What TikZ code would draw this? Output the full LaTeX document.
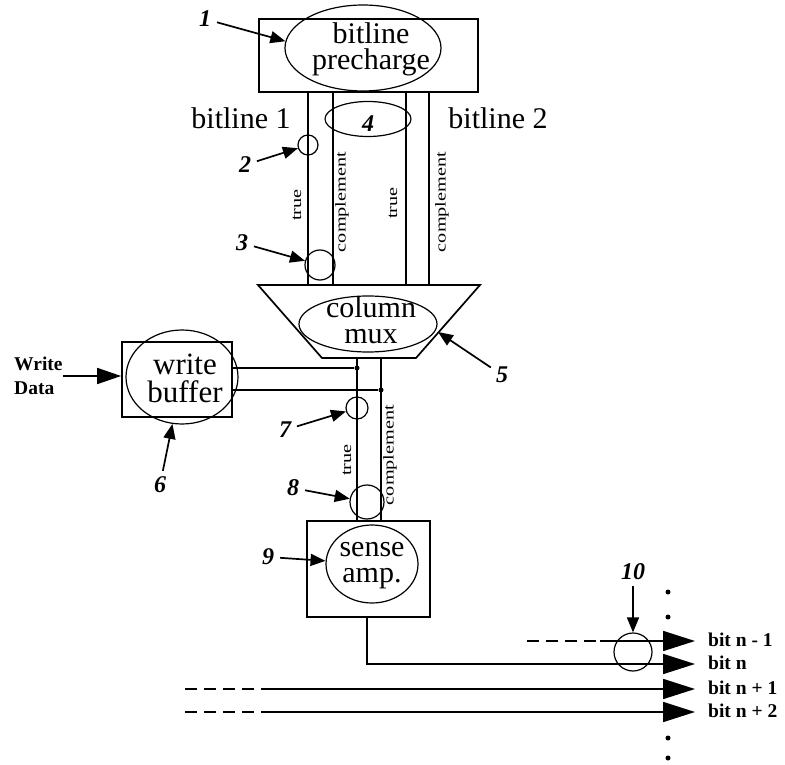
\documentclass[tikz,border=0pt]{standalone}
\usepackage{fontspec}
\setmainfont{Liberation Serif}
\usepackage{graphicx}
\usetikzlibrary{arrows.meta,shapes.geometric,positioning,calc}
\tikzset{
  block/.style    ={rectangle, draw, line width=1.7pt, inner sep=0pt},
  blob/.style     ={ellipse, draw, line width=1.2pt, inner sep=0pt},
  ring/.style     ={circle, draw, line width=1.2pt, inner sep=0pt},
  bigtext/.style  ={inner sep=0pt, align=center, font=\fontsize{30}{26}\selectfont},
  smalltext/.style={inner sep=0pt, align=left, font=\fontsize{19.5}{24}\selectfont\bfseries},
  num/.style      ={inner sep=0pt, font=\fontsize{24}{24}\selectfont\bfseries\itshape},
  wirelabel/.style={inner sep=0pt, rotate=90, font=\fontsize{15}{15}\selectfont},
  junction/.style ={circle, fill, inner sep=0pt, minimum size=5pt},
  wire/.style     ={line width=1.7pt},
  pointer/.style  ={-{Triangle[length=15pt,width=12pt]}, line width=1.7pt, shorten <=6pt},
  outarr/.style   ={-{Triangle[length=32pt,width=20pt]}, line width=1.7pt}
}

\begin{document}
\begin{tikzpicture}[x=1pt, y=-1pt]
\useasboundingbox (0,0) rectangle (785,765);

%PRECHARGE
\node[block, minimum width=219pt, minimum height=73pt] (pre) at (368.5,55.5) {};
\node[blob, minimum width=156pt, minimum height=86pt] (pe) at (363,48) {};
\node[bigtext] (pet) at (371,49) {bitline\\precharge};

%COLUMN MUX
\coordinate (muxTL) at (258,285);
\coordinate (muxTR) at (480,285);
\coordinate (muxBR) at (416,358);
\coordinate (muxBL) at (322,358);
\draw[wire] (muxTL) -- (muxTR) -- (muxBR) -- (muxBL) -- cycle;
\node[blob, minimum width=138pt, minimum height=56pt] (me) at (368,324) {};
\node[bigtext] (met) at (371,320) {column\\mux};

%BITLINES
\foreach \x in {308,333,406,429}
  \draw[wire] (pre.south -| \x,0) -- (muxTL -| \x,0);

\node[bigtext] (bl1) at (241,118) {bitline 1};
\node[bigtext] (bl2) at (498,118) {bitline 2};

\node[wirelabel] (tr1) at (297,205) {\scalebox{1.35}[1]{true}};
\node[wirelabel] (cp1) at (342,202) {\scalebox{1.35}[1]{complement}};
\node[wirelabel] (tr2) at (393,203) {\scalebox{1.35}[1]{true}};
\node[wirelabel] (cp2) at (442,202) {\scalebox{1.35}[1]{complement}};

%WRITE BUFFER
\node[block, minimum width=110pt, minimum height=75pt] (wb) at (177,379.5) {};
\node[blob, minimum width=112pt, minimum height=94pt] (we) at (182,377) {};
\node[bigtext, font=\fontsize{31}{28}\selectfont] (wet) at (185,378) {write\\buffer};

\node[smalltext, anchor=west] (wd) at (14,376) {Write\\Data};
\draw[outarr, -{Triangle[length=24pt,width=16pt]}] (wd.east) -- (wd.east -| wb.west);

\node[junction] (j1) at (357,368) {};
\node[junction] (j2) at (381,390) {};
\draw[wire] (j1 -| wb.east) -- (j1);
\draw[wire] (j2 -| wb.east) -- (j2);

%SENSE AMP
\node[block, minimum width=123pt, minimum height=96pt] (sb) at (368.5,569) {};
\node[blob, minimum width=92pt, minimum height=78pt] (se) at (372,564) {};
\node[bigtext] (set) at (372,566) {sense\\amp.};

\draw[wire] (j1 |- muxBL) -- (j1 |- sb.north);
\draw[wire] (j2 |- muxBL) -- (j2 |- sb.north);

\node[wirelabel] (tr3) at (347,460) {\scalebox{1.35}[1]{true}};
\node[wirelabel] (cp3) at (390,455) {\scalebox{1.35}[1]{complement}};

%OUTPUT BITS
\node[smalltext, anchor=west] (b0) at (708,640) {bit n - 1};
\node[smalltext, anchor=west] (b1) at (708,663) {bit n};
\node[smalltext, anchor=west] (b2) at (708,688) {bit n + 1};
\node[smalltext, anchor=west] (b3) at (708,711) {bit n + 2};

\coordinate (so) at (367,664);
\draw[outarr, shorten >=13pt] (sb.south -| so) |- (so -| b1.west);

\coordinate (d0s) at (527,641);
\coordinate (d0e) at (600,641);
\draw[wire, dash pattern=on 12pt off 7pt] (d0s) -- (d0e);
\draw[outarr, shorten >=13pt] (d0e) -- (d0e -| b0.west);

\coordinate (d2s) at (185,689);
\coordinate (d2e) at (262,689);
\draw[wire, dash pattern=on 12pt off 7pt] (d2s) -- (d2e);
\draw[outarr, shorten >=13pt] (d2e) -- (d2e -| b2.west);

\coordinate (d3s) at (185,712);
\coordinate (d3e) at (262,712);
\draw[wire, dash pattern=on 12pt off 7pt] (d3s) -- (d3e);
\draw[outarr, shorten >=13pt] (d3e) -- (d3e -| b3.west);

\foreach \y [count=\i] in {592,617,738,758}
  \node[junction] (dt\i) at (668,\y) {};

%ANNOTATIONS
\node[ring, minimum size=20pt] (c2) at (308,145) {};
\node[ring, minimum size=30pt] (c3) at (320,265) {};
\node[ring, ellipse, minimum width=86pt, minimum height=35pt] (c4) at (368,119) {};
\node[ring, minimum size=22pt] (c7) at (357,408) {};
\node[ring, minimum size=34pt] (c8) at (367,502) {};
\node[ring, minimum size=38pt] (c10) at (633,652) {};
\coordinate (mux5) at (438,332);

\node[num] (n1) at (205,19) {1};
\node[num] (n2) at (245,165) {2};
\node[num] (n3) at (242,243) {3};
\node[num] (n4) at (368,124) {4};
\node[num] (n5) at (502,375) {5};
\node[num] (n6) at (160,485) {6};
\node[num] (n7) at (285,430) {7};
\node[num] (n8) at (293,488) {8};
\node[num] (n9) at (268,557) {9};
\node[num] (n10) at (633,572) {10};

\draw[pointer] (n1) -- (pe.175);
\draw[pointer] (n2) -- (c2);
\draw[pointer] (n3) -- (c3);
\draw[pointer] (n5) -- (mux5);
\draw[pointer] (n6) -- (we);
\draw[pointer] (n7) -- (c7);
\draw[pointer] (n8) -- (c8);
\draw[pointer] (n9) -- (se);
\draw[pointer] (n10) -- (c10);
\end{tikzpicture}
\end{document}
